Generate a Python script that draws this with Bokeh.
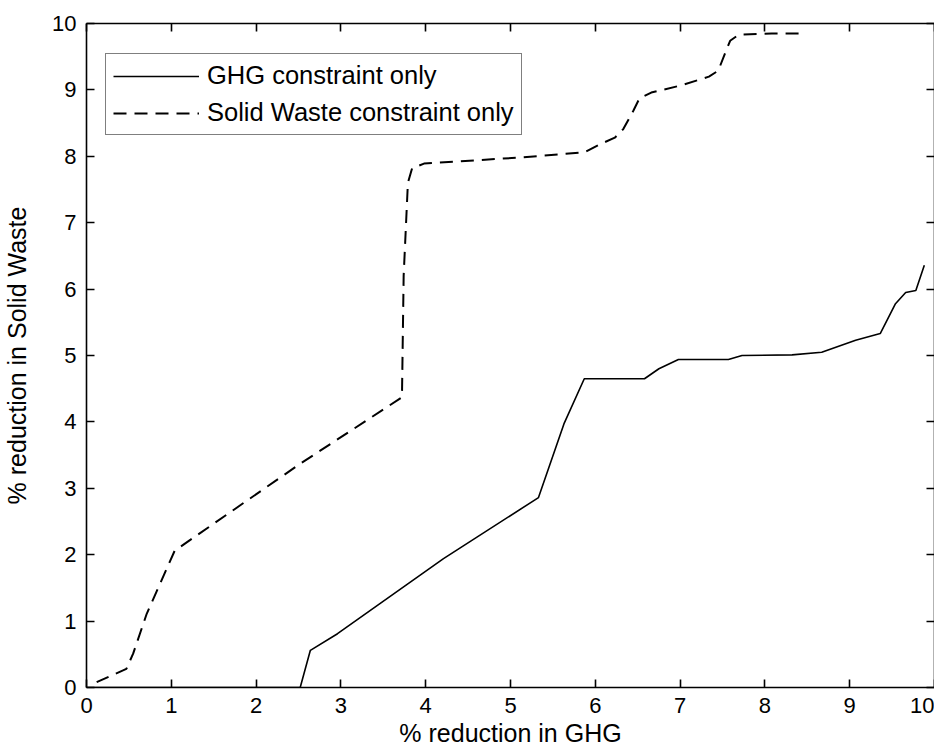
from bokeh.plotting import figure
from bokeh.models import LinearAxis, Legend, LegendItem, Range1d, FixedTicker, CustomJSTickFormatter
from bokeh.embed import file_html
from bokeh.resources import INLINE

# GHG constraint only (solid)
ghg_x = [0.0, 2.52, 2.64, 2.96, 4.21, 5.33, 5.63, 5.87, 6.58, 6.75, 6.98, 7.57,
         7.73, 8.32, 8.67, 9.07, 9.36, 9.54, 9.66, 9.78, 9.88]
ghg_y = [0.0, 0.0, 0.56, 0.81, 1.94, 2.86, 3.97, 4.65, 4.65, 4.80, 4.94, 4.94,
         5.00, 5.01, 5.05, 5.23, 5.33, 5.78, 5.95, 5.98, 6.36]

# Solid Waste constraint only (dashed)
sw_x = [0.12, 0.47, 0.55, 0.71, 1.04, 2.52, 3.72, 3.74, 3.79, 3.84, 3.98, 5.09,
        5.87, 6.07, 6.23, 6.33, 6.45, 6.52, 6.66, 7.02, 7.34, 7.45, 7.53, 7.59,
        7.69, 8.08, 8.40]
sw_y = [0.08, 0.28, 0.51, 1.11, 2.06, 3.37, 4.37, 6.20, 7.60, 7.82, 7.89, 7.98,
        8.06, 8.19, 8.28, 8.41, 8.69, 8.87, 8.96, 9.07, 9.20, 9.29, 9.55, 9.74,
        9.83, 9.85, 9.85]

x_ticks = [0, 1, 2, 3, 4, 5, 6, 7, 8, 9, 10]
y_ticks = [0, 1, 2, 3, 4, 5, 6, 7, 8, 9, 10]

FONT = "Liberation Sans"

p = figure(width=934, height=750, output_backend="svg", toolbar_location=None,
           x_range=Range1d(0, 10), y_range=Range1d(0, 10),
           min_border_left=83, min_border_right=0, min_border_top=23,
           min_border_bottom=63)
p.background_fill_color = "white"
p.border_fill_color = "white"
p.outline_line_color = None
p.xgrid.visible = False
p.ygrid.visible = False

r1 = p.line(ghg_x, ghg_y, line_color="black", line_width=1.6)
r2 = p.line(sw_x, sw_y, line_color="black", line_width=2, line_dash="13 8")

bottom = p.below[0]
left = p.left[0]
bottom.axis_label = "% reduction in GHG"
left.axis_label = "% reduction in Solid Waste"

above = LinearAxis(formatter=CustomJSTickFormatter(code="return ''"))
right = LinearAxis(formatter=CustomJSTickFormatter(code="return ''"))
p.add_layout(above, "above")
p.add_layout(right, "right")

for ax in [bottom, left, above, right]:
    ax.major_tick_in = 8
    ax.major_tick_out = 0
    ax.minor_tick_line_color = None
    ax.axis_line_color = "black"
    ax.axis_line_width = 1.6
    ax.major_tick_line_color = "black"
    ax.major_tick_line_width = 1.6
    ax.major_label_text_font = FONT
    ax.major_label_text_font_size = "22px"
    ax.major_label_text_color = "black"
    ax.axis_label_text_font = FONT
    ax.axis_label_text_font_size = "25px"
    ax.axis_label_text_font_style = "normal"
    ax.axis_label_text_color = "black"

bottom.ticker = FixedTicker(ticks=x_ticks)
above.ticker = FixedTicker(ticks=x_ticks)
left.ticker = FixedTicker(ticks=y_ticks)
right.ticker = FixedTicker(ticks=y_ticks)

for ax in [above, right]:
    ax.major_label_standoff = 0

bottom.major_label_standoff = 10
bottom.axis_label_standoff = 3
left.major_label_standoff = 10
left.axis_label_standoff = 18

legend = Legend(items=[LegendItem(label="GHG constraint only", renderers=[r1]),
                       LegendItem(label="Solid Waste constraint only", renderers=[r2])],
                location=(19, 552))
legend.label_text_font = FONT
legend.label_text_font_size = "25.5px"
legend.label_text_color = "black"
legend.glyph_width = 86
legend.glyph_height = 20
legend.label_standoff = 8
legend.padding = 7
legend.spacing = 8
legend.border_line_color = "black"
legend.border_line_width = 1.6
legend.background_fill_color = "white"
legend.background_fill_alpha = 1.0
p.add_layout(legend)

open("out.html", "w").write(file_html(p, INLINE))
